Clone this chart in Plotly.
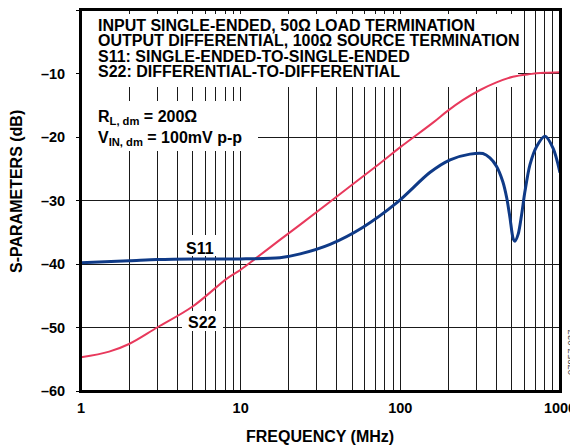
import plotly.graph_objects as go

# ---------------- data ----------------
s11_freq = [1, 2, 3, 5, 10, 17.6, 23.6, 36.3, 58.4, 95.6, 153, 205, 273, 329, 364, 400,
            438, 464, 486, 510, 522, 547, 575, 603, 648, 714, 805, 906, 1000]
s11_db = [-39.8, -39.5, -39.3, -39.2, -39.2, -39.0, -38.4, -36.9, -34.2, -30.3, -25.6, -23.6,
          -22.7, -22.6, -23.3, -24.6, -27.0, -29.6, -32.7, -36.1, -36.4, -35.3, -32.2, -28.6,
          -24.4, -21.5, -19.9, -21.8, -25.6]

s22_freq = [1, 1.5, 2, 3, 5, 8.2, 10, 12.3, 17.6, 23.6, 36.3, 74, 100, 161, 195, 246, 316,
            400, 507, 647, 800, 1000]
s22_db = [-54.7, -53.8, -52.6, -50.0, -46.7, -42.3, -40.9, -39.2, -36.2, -33.8, -30.2, -24.2,
          -21.6, -17.7, -16.0, -14.2, -12.6, -11.4, -10.5, -10.1, -9.9, -9.8]

x_tick_vals = [1, 10, 100, 1000]
x_tick_text = ["1", "10", "100", "1000"]
x_minor_vals = [m * d for d in (1, 10, 100) for m in range(2, 10)]
y_tick_vals = [0, -10, -20, -30, -40, -50, -60]
y_tick_text = ["0", "–10", "–20", "–30", "–40", "–50", "–60"]

header_lines = [
    "INPUT SINGLE-ENDED, 50Ω LOAD TERMINATION",
    "OUTPUT DIFFERENTIAL, 100Ω SOURCE TERMINATION",
    "S11: SINGLE-ENDED-TO-SINGLE-ENDED",
    "S22: DIFFERENTIAL-TO-DIFFERENTIAL",
]
cond_lines = ["R<sub>L, dm</sub> = 200Ω", "V<sub>IN, dm</sub> = 100mV p-p"]

# ---------------- layout helpers ----------------
OFF = 8                      # page body margin of the html page
W, H = 578 - OFF, 446 - OFF
L, R, T, B = 73, 18, 2, 55
PW, PH = W - L - R, H - T - B
X_RANGE = [0, 3]             # log10 of 1 .. 1000 MHz
Y_RANGE = [-60, 0]


def px(x):       # page pixel x -> paper
    return (x - OFF - L) / PW


def py(y):       # page pixel y -> paper
    return (H - B - (y - OFF)) / PH


def fx(x):       # page pixel x -> frequency (for decoration boxes)
    return 10 ** (X_RANGE[0] + px(x) * (X_RANGE[1] - X_RANGE[0]))


def fy(y):       # page pixel y -> dB (for decoration boxes)
    return Y_RANGE[0] + py(y) * (Y_RANGE[1] - Y_RANGE[0])


FONT = "Liberation Sans, Arial, sans-serif"
BLUE = "#0f3a87"
RED = "#e8395c"
GRID = "#1a1a1a"

fig = go.Figure()

# white label backgrounds: above the grid, below the curves
boxes = [(82, 518, 14, 87), (82, 258, 101, 151), (183, 218, 235, 256), (182, 223, 311, 331)]
for x0, x1, y0, y1 in boxes:
    fig.add_trace(go.Scatter(x=[fx(x0), fx(x1), fx(x1), fx(x0), fx(x0)],
                             y=[fy(y0), fy(y0), fy(y1), fy(y1), fy(y0)],
                             mode="none", fill="toself", fillcolor="white",
                             hoverinfo="skip", showlegend=False))

fig.add_trace(go.Scatter(x=s22_freq, y=s22_db, mode="lines",
                         line=dict(color=RED, width=2, shape="spline", smoothing=1.0),
                         hoverinfo="skip", showlegend=False))
fig.add_trace(go.Scatter(x=s11_freq, y=s11_db, mode="lines",
                         line=dict(color=BLUE, width=3, shape="spline", smoothing=0.8),
                         hoverinfo="skip", showlegend=False))

# plot frame
fig.add_shape(type="rect", xref="paper", yref="paper", x0=0, x1=1, y0=0, y1=1,
              line=dict(color="black", width=2), fillcolor="rgba(0,0,0,0)", layer="above")

annots = []
for i, t in enumerate(header_lines):
    annots.append(dict(text=t, x=px(96), y=py(25.5 + i * 15.4), xanchor="left", yanchor="middle"))
annots.append(dict(text=cond_lines[0], x=px(96), y=py(117), xanchor="left", yanchor="middle"))
annots.append(dict(text=cond_lines[1], x=px(96), y=py(138), xanchor="left", yanchor="middle"))
annots.append(dict(text="S11", x=px(200), y=py(248), xanchor="center", yanchor="middle"))
annots.append(dict(text="S22", x=px(202), y=py(322), xanchor="center", yanchor="middle"))
for a in annots:
    a.update(xref="paper", yref="paper", showarrow=False,
             font=dict(family=FONT, size=16, color="black", weight="bold"))
    fig.add_annotation(**a)

# axis titles and figure id
fig.add_annotation(text="FREQUENCY (MHz)", xref="paper", yref="paper", x=px(320), y=py(436),
                   xanchor="center", yanchor="middle", showarrow=False,
                   font=dict(family=FONT, size=16, color="black", weight="bold"))
fig.add_annotation(text="S-PARAMETERS (dB)", xref="paper", yref="paper", x=px(16), y=py(192),
                   xanchor="center", yanchor="middle", showarrow=False, textangle=-90,
                   font=dict(family=FONT, size=16, color="black", weight="bold"))
fig.add_annotation(text="07957-037", xref="paper", yref="paper", x=px(570), y=py(353),
                   xanchor="center", yanchor="middle", showarrow=False, textangle=-90,
                   font=dict(family=FONT, size=9.5, color="#444444"))

fig.update_xaxes(type="log", range=X_RANGE, tickvals=x_tick_vals, ticktext=x_tick_text,
                 minor=dict(tickvals=x_minor_vals, showgrid=True, gridcolor=GRID, gridwidth=1.2,
                            ticks=""),
                 showgrid=True, gridcolor=GRID, gridwidth=1.2,
                 showline=True, linecolor="black", linewidth=2, mirror=True,
                 ticks="", ticklabelstandoff=3, automargin=False,
                 tickfont=dict(family=FONT, size=14.5, color="black", weight="bold"),
                 zeroline=False)
fig.update_yaxes(range=Y_RANGE, tickvals=y_tick_vals, ticktext=y_tick_text,
                 showgrid=True, gridcolor=GRID, gridwidth=1.2,
                 showline=True, linecolor="black", linewidth=2, mirror=True,
                 ticks="outside", ticklen=3, tickcolor="black", ticklabelstandoff=8,
                 automargin=False,
                 tickfont=dict(family=FONT, size=14.5, color="black", weight="bold"),
                 zeroline=False)
fig.update_layout(width=W, height=H, margin=dict(l=L, r=R, t=T, b=B, autoexpand=False),
                  paper_bgcolor="white", plot_bgcolor="white", showlegend=False)
fig.write_html("out.html")
